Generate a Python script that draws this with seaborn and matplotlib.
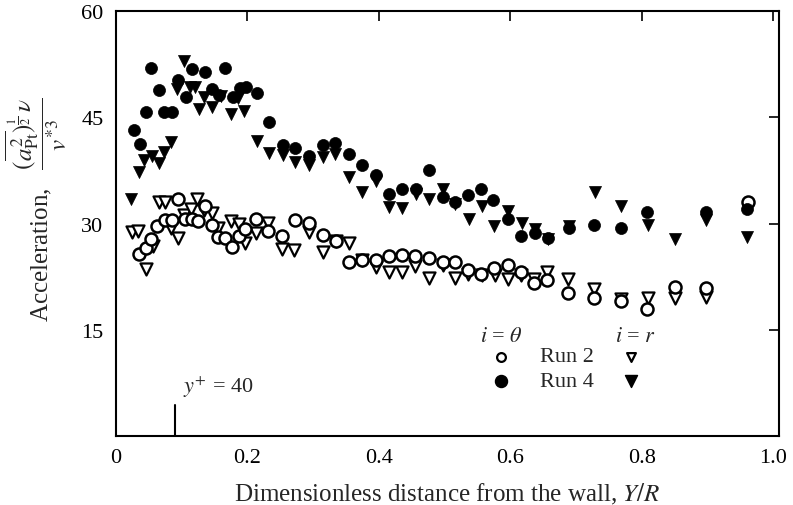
import matplotlib
matplotlib.use("Agg")
import matplotlib.pyplot as plt
import seaborn as sns
import pandas as pd

# ---- data ----
run4_theta_x = [0.027, 0.037, 0.045, 0.053, 0.065, 0.073, 0.085, 0.095, 0.107, 0.116, 0.136, 0.146,
                0.157, 0.166, 0.178, 0.188, 0.198, 0.214, 0.233, 0.254, 0.272, 0.294, 0.315, 0.333,
                0.355, 0.374, 0.395, 0.415, 0.436, 0.456, 0.477, 0.497, 0.516, 0.535, 0.556, 0.574,
                0.596, 0.616, 0.638, 0.657, 0.690, 0.728, 0.768, 0.808, 0.898, 0.961]
run4_theta_y = [43.2, 41.2, 45.7, 52.0, 48.8, 45.7, 45.7, 50.2, 47.8, 51.8, 51.4, 49.0,
                48.1, 51.9, 47.9, 49.2, 49.3, 48.4, 44.4, 41.1, 40.6, 39.6, 41.1, 41.3,
                39.8, 38.2, 36.8, 34.2, 34.9, 34.9, 37.6, 33.8, 33.0, 34.0, 34.9, 33.3,
                30.6, 28.2, 28.6, 28.0, 29.4, 29.8, 29.3, 31.6, 31.6, 32.0]

run4_r_x = [0.023, 0.035, 0.043, 0.055, 0.065, 0.073, 0.084, 0.093, 0.104, 0.113, 0.120, 0.126,
            0.134, 0.146, 0.160, 0.175, 0.185, 0.195, 0.214, 0.233, 0.254, 0.273, 0.294, 0.315,
            0.334, 0.355, 0.375, 0.395, 0.415, 0.436, 0.456, 0.477, 0.497, 0.516, 0.537, 0.557,
            0.575, 0.597, 0.618, 0.637, 0.657, 0.690, 0.729, 0.769, 0.809, 0.851, 0.898, 0.961]
run4_r_y = [33.5, 37.3, 38.9, 39.6, 38.5, 40.1, 41.5, 49.0, 52.9, 49.3, 49.3, 46.2,
            47.9, 46.5, 48.0, 45.5, 47.7, 45.9, 41.6, 39.9, 39.7, 38.7, 38.3, 39.4,
            39.8, 36.5, 34.4, 36.0, 32.3, 32.2, 34.2, 33.4, 34.9, 32.7, 30.7, 32.5,
            29.7, 31.7, 30.1, 29.2, 27.8, 29.6, 34.5, 32.5, 29.8, 27.8, 30.5, 28.1]

run2_theta_x = [0.035, 0.045, 0.053, 0.063, 0.075, 0.085, 0.095, 0.105, 0.116, 0.125, 0.136, 0.146,
                0.155, 0.166, 0.176, 0.187, 0.197, 0.213, 0.232, 0.253, 0.272, 0.294, 0.315, 0.335,
                0.355, 0.375, 0.395, 0.416, 0.436, 0.455, 0.477, 0.497, 0.516, 0.535, 0.556, 0.576,
                0.596, 0.616, 0.636, 0.656, 0.688, 0.728, 0.769, 0.808, 0.851, 0.898, 0.962]
run2_theta_y = [25.7, 26.5, 27.8, 29.7, 30.5, 30.5, 33.5, 30.7, 30.7, 30.3, 32.5, 29.8,
                28.1, 27.9, 26.7, 28.2, 29.2, 30.6, 29.0, 28.2, 30.5, 30.1, 28.4, 27.6,
                24.5, 24.8, 24.9, 25.4, 25.6, 25.4, 25.1, 24.5, 24.5, 23.4, 22.9, 23.7,
                24.1, 23.1, 21.6, 22.0, 20.2, 19.5, 19.1, 18.0, 21.0, 20.9, 33.0]

run2_r_x = [0.024, 0.033, 0.045, 0.056, 0.065, 0.075, 0.084, 0.094, 0.104, 0.114, 0.124, 0.134,
            0.146, 0.155, 0.175, 0.187, 0.197, 0.213, 0.232, 0.253, 0.271, 0.293, 0.315, 0.335,
            0.355, 0.375, 0.395, 0.416, 0.436, 0.455, 0.477, 0.497, 0.516, 0.536, 0.557, 0.577,
            0.596, 0.616, 0.636, 0.656, 0.688, 0.728, 0.769, 0.810, 0.851, 0.898]
run2_r_y = [28.8, 29.0, 23.6, 26.8, 33.0, 33.0, 29.4, 27.9, 31.2, 32.1, 33.5, 31.9,
            31.5, 29.3, 30.3, 30.0, 27.2, 28.6, 30.1, 26.4, 26.2, 28.8, 26.0, 27.5,
            27.2, 24.8, 23.8, 23.1, 23.1, 24.0, 22.3, 24.1, 22.3, 22.9, 22.8, 22.8,
            22.2, 22.8, 22.1, 23.2, 22.1, 20.7, 19.3, 19.5, 19.5, 19.6]

x_ticks = [0, 0.2, 0.4, 0.6, 0.8, 1.0]
x_tick_labels = ["0", "0.2", "0.4", "0.6", "0.8", "1.0"]
y_ticks = [15, 30, 45, 60]
y_tick_labels = ["15", "30", "45", "60"]
yplus_x = 0.09
yplus_h = 4.4

sns.set_theme(style="white")
plt.rcParams["font.family"] = ["Liberation Serif", "DejaVu Serif"]
plt.rcParams["mathtext.fontset"] = "stix"

fig = plt.figure(figsize=(7.93, 5.06), dpi=100)
ax = fig.add_axes([116/793, 1 - 437/506, (779-116)/793, (437-12)/506])

df_r4t = pd.DataFrame({"x": run4_theta_x, "y": run4_theta_y})
df_r4r = pd.DataFrame({"x": run4_r_x, "y": run4_r_y})
df_r2t = pd.DataFrame({"x": run2_theta_x, "y": run2_theta_y})
df_r2r = pd.DataFrame({"x": run2_r_x, "y": run2_r_y})

ms = 75
sns.scatterplot(data=df_r2r, x="x", y="y", marker="v", s=ms, facecolor="white",
                edgecolor="black", linewidth=1.6, ax=ax, zorder=3)
sns.scatterplot(data=df_r2t, x="x", y="y", marker="o", s=ms, facecolor="white",
                edgecolor="black", linewidth=1.8, ax=ax, zorder=3)
sns.scatterplot(data=df_r4r, x="x", y="y", marker="v", s=ms, color="black",
                edgecolor="black", linewidth=0.5, ax=ax, zorder=3)
sns.scatterplot(data=df_r4t, x="x", y="y", marker="o", s=ms, color="black",
                edgecolor="black", linewidth=0.5, ax=ax, zorder=3)

ax.set_xlim(0, 1.009)
ax.set_ylim(0, 60)
ax.set_xticks(x_ticks)
ax.set_xticklabels(x_tick_labels)
ax.set_yticks(y_ticks)
ax.set_yticklabels(y_tick_labels)
ax.tick_params(axis="both", which="major", direction="in", length=7, width=1.2,
               top=True, right=True, labelsize=16, colors="black", pad=9)
for s in ax.spines.values():
    s.set_visible(True)
    s.set_color("black")
    s.set_linewidth(1.5)

ax.set_xlabel("Dimensionless distance from the wall, $Y/R$", fontsize=18, labelpad=10)
ax.set_ylabel("")
fig.text(0.046, 0.585,
         r"Acceleration,   $\dfrac{(\overline{a^{2}_{\mathrm{Pt}}})^{\frac{1}{2}}\,\nu}{v^{*3}}$",
         rotation=90, ha="center", va="center", fontsize=18)

# y+ = 40 marker
ax.plot([yplus_x, yplus_x], [0, yplus_h], color="black", lw=1.5)
ax.text(0.102, 5.2, r"$y^{+}$ = 40", fontsize=16, ha="left", va="bottom")

# manual legend
T = ax.transAxes
ax.text(0.582, 0.235, r"$i$ = $\theta$", transform=T, fontsize=16, ha="center", va="center")
ax.text(0.784, 0.235, r"$i$ = $r$", transform=T, fontsize=16, ha="center", va="center")
ax.scatter([0.581], [0.186], transform=T, marker="o", s=40, facecolor="white",
           edgecolor="black", linewidth=1.6)
ax.scatter([0.581], [0.129], transform=T, marker="o", s=75, color="black")
ax.scatter([0.777], [0.186], transform=T, marker="v", s=40, facecolor="white",
           edgecolor="black", linewidth=1.6)
ax.scatter([0.777], [0.129], transform=T, marker="v", s=75, color="black")
ax.text(0.640, 0.186, "Run 2", transform=T, fontsize=16, ha="left", va="center")
ax.text(0.640, 0.129, "Run 4", transform=T, fontsize=16, ha="left", va="center")

fig.savefig("out.png", dpi=100)
